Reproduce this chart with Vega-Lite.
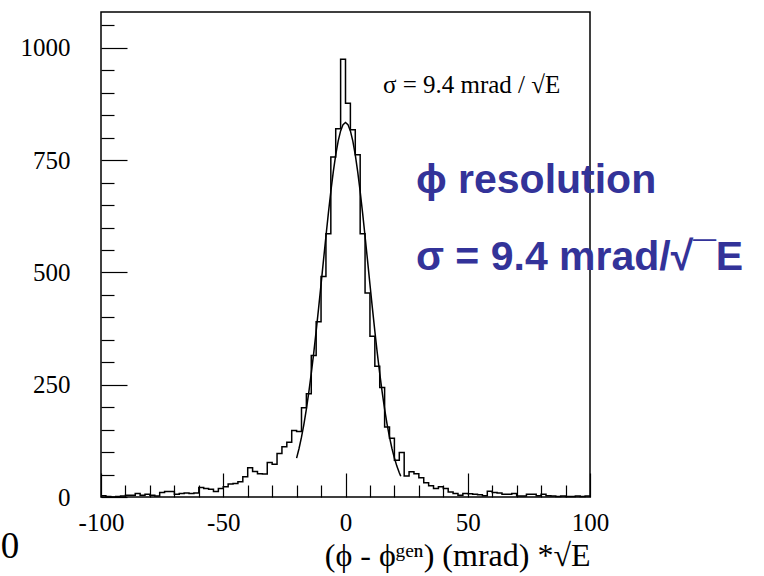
{
  "$schema": "https://vega.github.io/schema/vega-lite/v6.json",
  "width": 489,
  "height": 485,
  "autosize": {"type": "none"},
  "padding": {"left": 101, "top": 12, "right": 174, "bottom": 79},
  "background": "white",
  "config": {
    "view": {"stroke": "black", "strokeWidth": 1.5},
    "axis": {
      "grid": false,
      "domain": false,
      "labelFont": "Liberation Serif",
      "labelFontSize": 25,
      "labelColor": "black",
      "tickColor": "black",
      "tickWidth": 1.2,
      "titleFont": "Liberation Serif",
      "titleFontSize": 32,
      "titleFontWeight": "normal",
      "titleColor": "black"
    }
  },
  "datasets": {
    "hist": [
      {"x": -100, "n": 3}, {"x": -98, "n": 1}, {"x": -96, "n": 0}, {"x": -94, "n": 1}, {"x": -92, "n": 2},
      {"x": -90, "n": 4}, {"x": -88, "n": 4}, {"x": -86, "n": 8}, {"x": -84, "n": 4}, {"x": -82, "n": 6},
      {"x": -80, "n": 4}, {"x": -78, "n": 2}, {"x": -76, "n": 10}, {"x": -74, "n": 12}, {"x": -72, "n": 12},
      {"x": -70, "n": 6}, {"x": -68, "n": 8}, {"x": -66, "n": 9}, {"x": -64, "n": 8}, {"x": -62, "n": 9},
      {"x": -60, "n": 21}, {"x": -58, "n": 19}, {"x": -56, "n": 17}, {"x": -54, "n": 12}, {"x": -52, "n": 19},
      {"x": -50, "n": 23}, {"x": -48, "n": 29}, {"x": -46, "n": 30}, {"x": -44, "n": 34}, {"x": -42, "n": 45},
      {"x": -40, "n": 65}, {"x": -38, "n": 57}, {"x": -36, "n": 52}, {"x": -34, "n": 51}, {"x": -32, "n": 77},
      {"x": -30, "n": 73}, {"x": -28, "n": 97}, {"x": -26, "n": 112}, {"x": -24, "n": 122}, {"x": -22, "n": 148},
      {"x": -20, "n": 146}, {"x": -18, "n": 199}, {"x": -16, "n": 230}, {"x": -14, "n": 315}, {"x": -12, "n": 390},
      {"x": -10, "n": 491}, {"x": -8, "n": 586}, {"x": -6, "n": 757}, {"x": -4, "n": 820}, {"x": -2, "n": 975},
      {"x": 0, "n": 877}, {"x": 2, "n": 818}, {"x": 4, "n": 762}, {"x": 6, "n": 586}, {"x": 8, "n": 454},
      {"x": 10, "n": 358}, {"x": 12, "n": 291}, {"x": 14, "n": 244}, {"x": 16, "n": 156}, {"x": 18, "n": 131},
      {"x": 20, "n": 82}, {"x": 22, "n": 99}, {"x": 24, "n": 47}, {"x": 26, "n": 56}, {"x": 28, "n": 52},
      {"x": 30, "n": 43}, {"x": 32, "n": 32}, {"x": 34, "n": 25}, {"x": 36, "n": 19}, {"x": 38, "n": 23},
      {"x": 40, "n": 19}, {"x": 42, "n": 11}, {"x": 44, "n": 8}, {"x": 46, "n": 4}, {"x": 48, "n": 8},
      {"x": 50, "n": 7}, {"x": 52, "n": 6}, {"x": 54, "n": 5}, {"x": 56, "n": 3}, {"x": 58, "n": 13},
      {"x": 60, "n": 10}, {"x": 62, "n": 9}, {"x": 64, "n": 6}, {"x": 66, "n": 6}, {"x": 68, "n": 8},
      {"x": 70, "n": 2}, {"x": 72, "n": 2}, {"x": 74, "n": 6}, {"x": 76, "n": 6}, {"x": 78, "n": 3},
      {"x": 80, "n": 6}, {"x": 82, "n": 3}, {"x": 84, "n": 2}, {"x": 86, "n": 1}, {"x": 88, "n": 2},
      {"x": 90, "n": 1}, {"x": 92, "n": 1}, {"x": 94, "n": 2}, {"x": 96, "n": 1}, {"x": 98, "n": 2},
      {"x": 100, "n": 2}
    ],
    "fit": [
      {"x": -20, "f": 86.7}, {"x": -19, "f": 108.1}, {"x": -18, "f": 133.3}, {"x": -17, "f": 162.5},
      {"x": -16, "f": 195.9}, {"x": -15, "f": 233.5}, {"x": -14, "f": 275.1}, {"x": -13, "f": 320.5},
      {"x": -12, "f": 369.2}, {"x": -11, "f": 420.5}, {"x": -10, "f": 473.6}, {"x": -9, "f": 527.4},
      {"x": -8, "f": 580.6}, {"x": -7, "f": 632.0}, {"x": -6, "f": 680.3}, {"x": -5, "f": 724.0},
      {"x": -4, "f": 761.8}, {"x": -3, "f": 792.6}, {"x": -2, "f": 815.3}, {"x": -1, "f": 829.3},
      {"x": 0, "f": 834.0}, {"x": 1, "f": 829.3}, {"x": 2, "f": 815.3}, {"x": 3, "f": 792.6},
      {"x": 4, "f": 761.8}, {"x": 5, "f": 724.0}, {"x": 6, "f": 680.3}, {"x": 7, "f": 632.0},
      {"x": 8, "f": 580.6}, {"x": 9, "f": 527.4}, {"x": 10, "f": 473.6}, {"x": 11, "f": 420.5},
      {"x": 12, "f": 369.2}, {"x": 13, "f": 320.5}, {"x": 14, "f": 275.1}, {"x": 15, "f": 233.5},
      {"x": 16, "f": 195.9}, {"x": 17, "f": 162.5}, {"x": 18, "f": 133.3}, {"x": 19, "f": 108.1},
      {"x": 20, "f": 86.7}, {"x": 21, "f": 68.8}, {"x": 22, "f": 53.9}, {"x": 22.6, "f": 46.3}
    ]
  },
  "layer": [
    {
      "data": {"name": "hist"},
      "mark": {"type": "line", "interpolate": "step-after", "color": "black", "strokeWidth": 1.5},
      "encoding": {
        "x": {
          "field": "x", "type": "quantitative",
          "scale": {"domain": [-100, 100], "nice": false, "zero": false},
          "axis": {
            "orient": "bottom",
            "values": [-100, -50, 0, 50, 100],
            "tickSize": -24,
            "labelPadding": 37,
            "labelFlush": false,
            "labelOverlap": false,
            "labelExpr": "'' + datum.value",
            "title": "(ϕ - ϕᵍᵉⁿ) (mrad) *√E",
            "titleAnchor": "end",
            "titlePadding": 5
          }
        },
        "y": {
          "field": "n", "type": "quantitative",
          "scale": {"domain": [0, 1080], "nice": false},
          "axis": {
            "orient": "left",
            "values": [0, 250, 500, 750, 1000],
            "tickSize": -26,
            "labelPadding": 57,
            "labelFlush": false,
            "labelOverlap": false,
            "labelExpr": "'' + datum.value",
            "title": null
          }
        }
      }
    },
    {
      "data": {"name": "fit"},
      "mark": {"type": "line", "color": "black", "strokeWidth": 1.5},
      "encoding": {
        "x": {
          "field": "x", "type": "quantitative",
          "axis": {
            "orient": "bottom",
            "values": [-90, -80, -70, -60, -40, -30, -20, -10, 10, 20, 30, 40, 60, 70, 80, 90],
            "tickSize": -12,
            "labels": false,
            "title": null
          }
        },
        "y": {
          "field": "f", "type": "quantitative",
          "axis": {
            "orient": "left",
            "values": [50, 100, 150, 200, 300, 350, 400, 450, 550, 600, 650, 700, 800, 850, 900, 950, 1050],
            "tickSize": -13,
            "labels": false,
            "title": null
          }
        }
      }
    },
    {
      "data": {"values": [{"x": 15.3, "y": 900, "label": "σ = 9.4 mrad / √E"}]},
      "mark": {"type": "text", "font": "Liberation Serif", "fontSize": 25, "align": "left", "baseline": "alphabetic", "color": "black"},
      "encoding": {
        "x": {"field": "x", "type": "quantitative", "axis": null},
        "y": {"field": "y", "type": "quantitative", "axis": null},
        "text": {"field": "label"}
      }
    },
    {
      "data": {"values": [
        {"x": 28.8, "y": 677, "label": "ϕ resolution"},
        {"x": 28.8, "y": 505, "label": "σ = 9.4 mrad/√¯E"}
      ]},
      "mark": {"type": "text", "font": "Liberation Sans", "fontSize": 41, "fontWeight": "bold", "align": "left", "baseline": "alphabetic", "color": "#333399"},
      "encoding": {
        "x": {"field": "x", "type": "quantitative", "axis": null},
        "y": {"field": "y", "type": "quantitative", "axis": null},
        "text": {"field": "label"}
      }
    },
    {
      "data": {"values": [{"x": -133.4, "y": -135, "label": "0"}]},
      "mark": {"type": "text", "font": "Liberation Sans Narrow", "fontSize": 37, "align": "right", "baseline": "alphabetic", "color": "black"},
      "encoding": {
        "x": {"field": "x", "type": "quantitative", "axis": null},
        "y": {"field": "y", "type": "quantitative", "axis": null},
        "text": {"field": "label"}
      }
    }
  ],
  "resolve": {"axis": {"x": "independent", "y": "independent"}}
}
